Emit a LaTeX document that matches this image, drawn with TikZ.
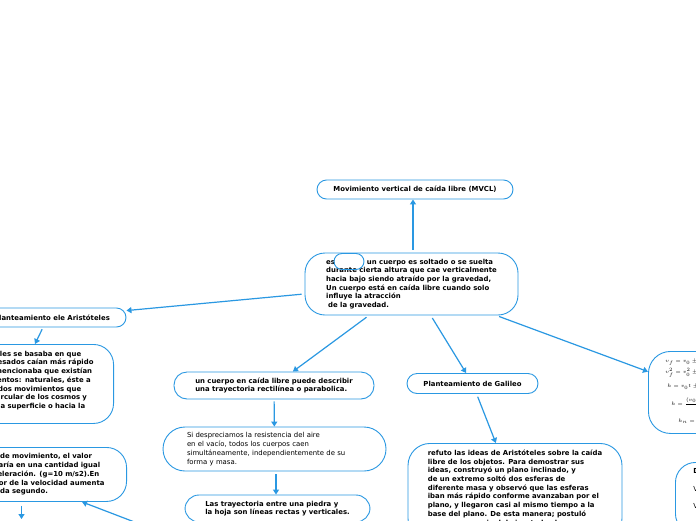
\documentclass[tikz,border=0pt]{standalone}
\usepackage{fontspec}
\setmainfont{DejaVu Sans}
\usetikzlibrary{arrows.meta}
\definecolor{mblue}{RGB}{42,152,226}
\begin{document}
\begin{tikzpicture}[x=1pt,y=-1pt,
  box/.style={draw=mblue,line width=0.9pt,fill=white,rounded corners=#1,inner xsep=0pt,inner ysep=0pt,align=left,font=\fontsize{6.9}{8.7}\selectfont\bfseries},
  box/.default=10pt,
  arr/.style={mblue,line width=1.2pt,-{Triangle[length=5pt,width=6pt]}},
]
\useasboundingbox (0,0) rectangle (696,520);
\clip (0,0) rectangle (696,520);
\fill[white] (0,0) rectangle (696,520);

\node[box=9.5pt, minimum width=196pt, minimum height=19pt, align=center] (top) at (415,189.5) {Movimiento vertical de caída libre (MVCL)};

\node[box=20pt, minimum width=213pt, minimum height=62pt] (central) at (411.5,284) {es\hspace*{32pt}un cuerpo es soltado o se suelta\\durante cierta altura que cae verticalmente\\hacia bajo siendo atraído por la gravedad,\\Un cuerpo está en caída libre cuando solo\\influye la atracción\\\hspace*{2pt}de la gravedad.};

\node[draw=mblue, line width=0.9pt, rounded corners=8pt, minimum width=30pt, minimum height=16pt] (oval) at (349,261.5) {};

\node[box=9.5pt, minimum width=148pt, minimum height=19pt, align=center] (arist) at (52,317.5) {Planteamiento ele Aristóteles};

\node[box=20pt, anchor=north east, text width=128.8pt, inner xsep=16pt, minimum height=79pt] (a2) at (114,344) {Aristóteles se basaba en que\\cosas pesados caían más rápido\\lo que mencionaba que existían\\movimientos: naturales, éste a\\su vez, dos movimientos que\\son el circular de los cosmos y\\recto a la superficie o hacia la\\\mbox{}};

\node[box=20pt, anchor=north east, text width=155pt, inner xsep=20pt, minimum height=54pt] (a3) at (127,447) {En este tipo de movimiento, el valor\\su rapidez varía en una cantidad igual\\que es la aceleración. (g=10 m/s2).En\\luego, el valor de la velocidad aumenta\\10 m/s en cada segundo.};

\node[box=13pt, minimum width=200pt, minimum height=27pt] (uc) at (274,385.5) {un cuerpo en caída libre puede describir\\una trayectoria rectilínea o parabolica.};

\node[box=22pt, minimum width=223pt, minimum height=44pt, text width=175pt, inner xsep=24pt, font=\fontsize{6.9}{8.9}\selectfont] (sd) at (274.5,449) {Si despreciamos la resistencia del aire\\en el vacío, todos los cuerpos caen\\simultáneamente, independientemente de su\\forma y masa.};

\node[box=14pt, minimum width=185pt, minimum height=27pt] (lt) at (277.5,508.5) {Las trayectoria entre una piedra y\\la hoja son líneas rectas y verticales.};

\node[box=10pt, minimum width=131pt, minimum height=20pt, align=center] (gal) at (472.5,383.5) {Planteamiento de Galileo};

\node[box=22pt, anchor=north, minimum width=214pt, inner ysep=6.5pt] (gt) at (515,443) {refuto las ideas de Aristóteles sobre la caída\\libre de los objetos. Para demostrar sus\\ideas, construyó un plano inclinado, y\\de un extremo soltó dos esferas de\\diferente masa y observó que las esferas\\iban más rápido conforme avanzaban por el\\plano, y llegaron casi al mismo tiempo a la\\base del plano. De esta manera; postuló\\que, en ausencia del aire, todos los cuerpos\\caen con la misma aceleración.};

\node[box=22pt, anchor=north west, minimum width=112pt, minimum height=82pt, text width=78pt, inner xsep=17pt, font=\fontsize{5.5}{12}\selectfont] (fml) at (648,351) {$v_f = v_0 \pm gt$\\[-1pt]$v_f^2 = v_0^2 \pm 2gh$\\[2pt]\hspace*{2pt}$h = v_0t \pm \frac{1}{2}gt^2$\\[6pt]\hspace*{6pt}$h=\frac{(v_0+v_f)}{2}\,t$\\[5pt]\hspace*{13pt}$h_n = v_0 \pm \frac{1}{2}g(2n-1)$};

\node[box=20pt, anchor=north west, text width=80pt, inner xsep=18pt, inner ysep=6pt, font=\fontsize{6.9}{17.5}\selectfont] (br) at (675,462) {\textbf{Donde:}\\Vf: velocidad final\\Vo: velocidad inicial\\g: gravedad};

\coordinate (d3) at (21.5,519);
\coordinate (e3) at (154,529.5);

\draw[arr, shorten <=3pt] ([xshift=1.5pt]central.north) -- ([xshift=-2pt]top.south);
\draw[arr, shorten <=3pt] (central) -- (arist);
\draw[arr, shorten <=3pt] (central) -- (uc);
\draw[arr, shorten <=3pt] (central) -- (gal);
\draw[arr, shorten <=3pt] (central) -- (fml);
\draw[arr, shorten <=2pt] ([xshift=-9pt]arist.south) -- ([xshift=-79pt]a2.north east);
\draw[arr, shorten <=4pt] ([xshift=-105.5pt]a3.south east) -- (d3);
\draw[arr] (e3) -- ([xshift=-45pt]a3.south east);
\draw[arr, shorten <=2pt] (uc) -- (sd);
\draw[arr, shorten <=3pt] ([xshift=1.5pt]sd.south) -- ([xshift=-1.5pt]lt.north);
\draw[arr, shorten <=3pt] (gal) -- (gt);
\end{tikzpicture}
\end{document}
